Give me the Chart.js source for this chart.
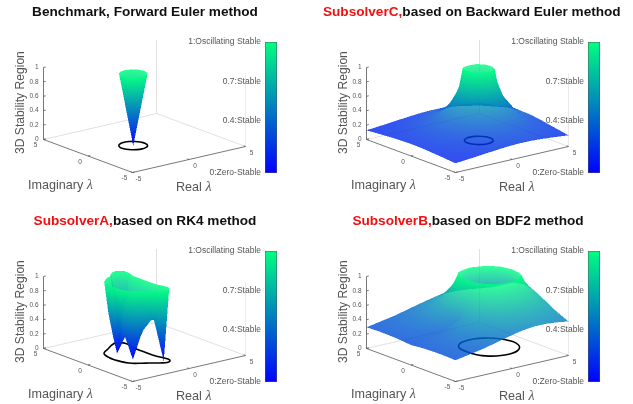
<!DOCTYPE html>
<html>
<head>
<meta charset="utf-8">
<script src="https://cdn.jsdelivr.net/npm/chart.js@4"></script>
<style>
    html, body { margin: 0; padding: 0; background: #fff; width: 633px; height: 404px; overflow: hidden; }
    body { font-family: 'Liberation Sans', Arial, sans-serif; position: relative; filter: blur(0.4px); }
    .panel { position: absolute; width: 300px; height: 200px; }
    .panel canvas { position: absolute; top: 0; }
    .title { position: absolute; left: 0; width: 290px; top: 4px; text-align: center; font-weight: bold; font-size: 13.6px; color: #111; white-space: nowrap; }
    .title span { color: #f01010; }
    .axis-name { position: absolute; font-size: 12.6px; color: #555; white-space: nowrap; }
    .axis-name.side { font-size: 12.1px; left: -30px; top: 96px; width: 100px; text-align: center; transform: rotate(-90deg); }
    .axis-name i { font-family: 'Liberation Serif', serif; font-size: 14px; }
</style>
</head>
<body>
<script>
// Grid nodes and heights (im >= 0, the lower half mirrors it)
const eulerRe = [-2.5, -2, -1.5, -1, -0.5, 0, 0.5];
const eulerIm = [0, 0.5, 1, 1.5];
const eulerZ = [
    [1.5, 1, 0.5, 0, 0.5, 1, 1.5],
    [1.58, 1.12, 0.707, 0.5, 0.707, 1.12, 1.58],
    [1.8, 1.41, 1.12, 1, 1.12, 1.41, 1.8],
    [2.12, 1.8, 1.58, 1.5, 1.58, 1.8, 2.12]
];
const eulerCurveRe = [0, -0.076, -0.293, -0.617, -1, -1.383, -1.707, -1.924, -2];
const eulerCurveIm = [0, 0.383, 0.707, 0.924, 1, 0.924, 0.707, 0.383, 0];

const backwardRe = [-5, -3, -1.5, -0.5, 0, 0.5, 1, 1.5, 2, 2.5, 3.5, 5];
const backwardIm = [0, 0.5, 1, 1.5, 2, 3, 5];
const backwardZ = [
    [0.167, 0.25, 0.4, 0.667, 1, 2, 3, 2, 1, 0.667, 0.4, 0.25],
    [0.166, 0.248, 0.392, 0.632, 0.894, 1.41, 2, 1.41, 0.894, 0.632, 0.392, 0.248],
    [0.164, 0.243, 0.371, 0.555, 0.707, 0.894, 1, 0.894, 0.707, 0.555, 0.371, 0.243],
    [0.162, 0.234, 0.343, 0.471, 0.555, 0.632, 0.667, 0.632, 0.555, 0.471, 0.343, 0.234],
    [0.158, 0.224, 0.312, 0.4, 0.447, 0.485, 0.5, 0.485, 0.447, 0.4, 0.312, 0.224],
    [0.149, 0.2, 0.256, 0.298, 0.316, 0.329, 0.333, 0.329, 0.316, 0.298, 0.256, 0.2],
    [0.128, 0.156, 0.179, 0.192, 0.196, 0.199, 0.2, 0.199, 0.196, 0.192, 0.179, 0.156]
];
const backwardCurveRe = [2, 1.924, 1.707, 1.383, 1, 0.617, 0.293, 0.076, 0];
const backwardCurveIm = [0, 0.383, 0.707, 0.924, 1, 0.924, 0.707, 0.383, 0];

const rk4Re = [-3, -2.5, -2.1, -1.73, -1.3, -0.8, -0.27, 0.2, 0.5];
const rk4Im = [0, 0.45, 0.889, 1.4, 2, 2.505, 3];
const rk4Z = [
    [1.37, 0.648, 0.372, 0.277, 0.298, 0.452, 0.763, 1.22, 1.65],
    [1.417, 0.639, 0.317, 0.203, 0.258, 0.444, 0.762, 1.217, 1.647],
    [1.59, 0.693, 0.263, 0, 0.222, 0.453, 0.765, 1.21, 1.65],
    [2.09, 1.04, 0.56, 0.372, 0.393, 0.526, 0.752, 1.17, 1.63],
    [3.24, 1.93, 1.31, 0.973, 0.767, 0.605, 0.561, 1.005, 1.59],
    [4.81, 3.16, 2.29, 1.74, 1.25, 0.728, 0, 0.968, 1.81],
    [7.18, 5.05, 3.85, 3.01, 2.26, 1.55, 1.21, 1.96, 2.93]
];
const rk4CurveRe = [0, -0.01, -0.01, 0.05, 0.2, 0.24, 0.1, -0.3, -0.75, -1.06, -1.4, -1.76, -2.2, -2.47, -2.67, -2.75, -2.785];
const rk4CurveIm = [0, 0.45, 0.889, 1.4, 2, 2.4, 2.75, 2.93, 2.72, 2.5, 2.25, 2, 1.7, 1.4, 0.889, 0.45, 0];

const bdf2Re = [-5, -2.5, -1, 0, 0.5, 1, 2, 3, 4, 4.5, 5];
const bdf2Im = [0, 1, 1.5, 2, 2.5, 3.5, 5];
const bdf2Z = [
    [0.277, 0.354, 0.447, 1, 1.71, 3.73, 4.24, 1.55, 1, 0.86, 0.76],
    [0.29, 0.391, 0.569, 0.933, 1.277, 1.725, 1.92, 1.3, 0.934, 0.82, 0.733],
    [0.295, 0.403, 0.577, 0.848, 1.05, 1.26, 1.38, 1.115, 0.871, 0.777, 0.705],
    [0.298, 0.408, 0.566, 0.762, 0.885, 1, 1.084, 0.96, 0.798, 0.729, 0.67],
    [0.3, 0.408, 0.544, 0.688, 0.767, 0.837, 0.897, 0.837, 0.732, 0.68, 0.633],
    [0.301, 0.396, 0.493, 0.574, 0.613, 0.645, 0.678, 0.663, 0.617, 0.589, 0.56],
    [0.295, 0.367, 0.425, 0.463, 0.481, 0.495, 0.513, 0.512, 0.497, 0.485, 0.473]
];
const bdf2CurveRe = [0, 0.001, 0.018, 0.086, 0.25, 0.549, 1, 1.585, 2.25, 2.914, 3.482, 3.865, 4];
const bdf2CurveIm = [0, 0.268, 0.567, 0.914, 1.299, 1.682, 2, 2.182, 2.165, 1.914, 1.433, 0.768, 0];

// Axis ticks
const zTicks = [0, 0.2, 0.4, 0.6, 0.8, 1];
const reTicks = [-5, 0, 5];
const imTicks = [5, 0, -5];
const barTicks = [0, 0.4, 0.7, 1];
const barLabels = ['0:Zero-Stable', '0.4:Stable', '0.7:Stable', '1:Oscillating Stable'];

// Fixed 3D view, in screen pixels per data unit
const VIEW = { reX: 11.3, imX: -8.9, reY: -2.6, imY: -3.3, z: 72, cx: 144.5, cy: 143 };
const PLOT_W = 262, PLOT_H = 200;
const SS = 2;

function project(re, im, z) {
    return { x: VIEW.reX * re + VIEW.imX * im, y: VIEW.reY * re + VIEW.imY * im - VIEW.z * z, z };
}

// Complete the surface with its mirrored lower half, nodes go row by row
function surfaceNodes(res, ims, zs) {
    const rows = [];
    for (let r = ims.length - 1; r > 0; r--) rows.push({ im: -ims[r], z: zs[r] });
    ims.forEach((im, r) => rows.push({ im, z: zs[r] }));
    const nodes = [];
    rows.forEach(row => res.forEach((re, c) => nodes.push(project(re, row.im, row.z[c]))));
    return { nodes, rows: rows.length, cols: res.length };
}

function curvePoints(res, ims) {
    const pts = res.map((re, i) => project(re, ims[i], 0));
    for (let i = res.length - 2; i >= 0; i--) pts.push(project(res[i], -ims[i], 0));
    return pts;
}

function lineSet(data, color, order, width, tension) {
    return { type: 'scatter', data, showLine: true, borderColor: color, borderWidth: width || 0.8, tension: tension || 0, pointRadius: 0, order };
}

// Software shading: the colour follows the height, heights over 1 are cut off
const surfacePlugin = {
    id: 'surfacePlugin',
    afterDatasetDraw(chart, args) {
        const ds = chart.data.datasets[args.index];
        if (!ds.surface) return;
        const pts = chart.getDatasetMeta(args.index).data;
        const w = chart.width * SS, h = chart.height * SS;
        const buf = new Float32Array(w * h * 4);
        const alpha = ds.surfaceAlpha;

        const tri = (ia, ib, ic) => {
            const ax = pts[ia].x * SS, ay = pts[ia].y * SS, bx = pts[ib].x * SS, by = pts[ib].y * SS, cx = pts[ic].x * SS, cy = pts[ic].y * SS;
            const za = ds.data[ia].z, zb = ds.data[ib].z, zc = ds.data[ic].z;
            if (za > 1 && zb > 1 && zc > 1) return;
            const area = (bx - ax) * (cy - ay) - (by - ay) * (cx - ax);
            if (area === 0) return;
            const x0 = Math.max(0, Math.floor(Math.min(ax, bx, cx))), x1 = Math.min(w - 1, Math.ceil(Math.max(ax, bx, cx)));
            const y0 = Math.max(0, Math.floor(Math.min(ay, by, cy))), y1 = Math.min(h - 1, Math.ceil(Math.max(ay, by, cy)));
            for (let y = y0; y <= y1; y++) {
                for (let x = x0; x <= x1; x++) {
                    const px = x + 0.5, py = y + 0.5;
                    const u = ((bx - px) * (cy - py) - (by - py) * (cx - px)) / area;
                    const v = ((cx - px) * (ay - py) - (cy - py) * (ax - px)) / area;
                    const t = 1 - u - v;
                    if (u < 0 || v < 0 || t < 0) continue;
                    const z = u * za + v * zb + t * zc;
                    if (z > 1) continue;
                    const k = (y * w + x) * 4, rest = 1 - alpha;
                    buf[k] = buf[k] * rest;
                    buf[k + 1] = buf[k + 1] * rest + alpha * z * 255;
                    buf[k + 2] = buf[k + 2] * rest + alpha * (255 - 127 * z);
                    buf[k + 3] = buf[k + 3] * rest + alpha;
                }
            }
        };

        // From the far corner to the near one
        for (let r = ds.rows - 2; r >= 0; r--) {
            for (let c = ds.cols - 2; c >= 0; c--) {
                const n = r * ds.cols + c;
                tri(n + ds.cols + 1, n + ds.cols, n + 1);
                tri(n, n + ds.cols, n + 1);
            }
        }

        const off = document.createElement('canvas');
        off.width = w;
        off.height = h;
        const octx = off.getContext('2d');
        const img = octx.createImageData(w, h);
        for (let i = 0; i < buf.length; i += 4) {
            const a = buf[i + 3];
            if (a <= 0) continue;
            img.data[i] = buf[i] / a;
            img.data[i + 1] = buf[i + 1] / a;
            img.data[i + 2] = buf[i + 2] / a;
            img.data[i + 3] = a * 255;
        }
        octx.putImageData(img, 0, 0);
        chart.ctx.save();
        chart.ctx.imageSmoothingEnabled = true;
        chart.ctx.drawImage(off, 0, 0, chart.width, chart.height);
        chart.ctx.restore();
    }
};

// Small tick numbers on the box
const tickLabelPlugin = {
    id: 'tickLabelPlugin',
    afterDraw(chart) {
        const ctx = chart.ctx, xs = chart.scales.x, ys = chart.scales.y;
        const put = (text, p, dx, dy, align) => {
            ctx.textAlign = align;
            ctx.fillText(text, xs.getPixelForValue(p.x) + dx, ys.getPixelForValue(p.y) + dy);
        };
        ctx.save();
        ctx.font = "6.5px 'Liberation Sans'";
        ctx.fillStyle = '#555';
        ctx.textBaseline = 'middle';
        zTicks.forEach(z => put(String(z), project(-5, 5, z), -5, 0, 'right'));
        imTicks.forEach(im => put(String(im), project(-5, im, 0), -8, 6, 'center'));
        reTicks.forEach(re => put(String(re), project(re, -5, 0), 6, 7, 'center'));
        ctx.restore();
    }
};

function boxSets() {
    const back = [project(-5, 5, 0), project(5, 5, 0), project(5, -5, 0)];
    const backUp = [project(5, 5, 0), project(5, 5, 1.02)];
    const rightUp = [project(5, -5, 0), project(5, -5, 1.02)];
    const front = [project(-5, 5, 0), project(-5, -5, 0), project(5, -5, 0)];
    const zAxis = [project(-5, 5, 0), project(-5, 5, 1)];
    const ticks = [];
    const gap = { x: NaN, y: NaN };
    zTicks.forEach(z => ticks.push(project(-5, 5, z), project(-4.8, 5, z), gap));
    reTicks.forEach(re => ticks.push(project(re, -5, 0), project(re, -4.8, 0), gap));
    imTicks.forEach(im => ticks.push(project(-5, im, 0), project(-4.8, im, 0), gap));
    return [
        lineSet(back, '#d8d8d8', 3),
        lineSet(backUp, '#d8d8d8', 3),
        lineSet(rightUp, '#e4e4e4', 3),
        lineSet(front, '#555', 2),
        lineSet(zAxis, '#555', 2),
        lineSet(ticks, '#555', 2)
    ];
}

function drawSurface(canvas, res, ims, zs, curveRe, curveIm, alpha) {
    const grid = surfaceNodes(res, ims, zs);
    new Chart(canvas, {
        type: 'scatter',
        data: {
            datasets: [
                ...boxSets(),
                lineSet(curvePoints(curveRe, curveIm), '#000', 1, 1.6, 0.3),
                {
                    data: grid.nodes,
                    surface: true,
                    rows: grid.rows,
                    cols: grid.cols,
                    surfaceAlpha: alpha,
                    pointRadius: 0,
                    order: 0
                }
            ]
        },
        options: {
            responsive: false,
            animation: false,
            layout: { padding: 0 },
            plugins: { legend: { display: false }, tooltip: { enabled: false } },
            scales: {
                x: { type: 'linear', display: false, min: -VIEW.cx, max: PLOT_W - VIEW.cx },
                y: { type: 'linear', display: false, reverse: true, min: -VIEW.cy, max: PLOT_H - VIEW.cy }
            }
        },
        plugins: [surfacePlugin, tickLabelPlugin]
    });
}

// Colour bar: one floating bar with the winter gradient
function drawColorBar(canvas) {
    new Chart(canvas, {
        type: 'bar',
        data: {
            labels: [''],
            datasets: [{
                data: [[0, 1]],
                backgroundColor(c) {
                    const area = c.chart.chartArea;
                    if (!area) return '#0000ff';
                    const g = c.chart.ctx.createLinearGradient(0, area.bottom, 0, area.top);
                    g.addColorStop(0, '#0000ff');
                    g.addColorStop(1, '#00ff80');
                    return g;
                },
                borderColor: '#555',
                borderWidth: 0.8,
                borderSkipped: false,
                barPercentage: 1,
                categoryPercentage: 1
            }]
        },
        options: {
            responsive: false,
            animation: false,
            layout: { padding: { top: 42, bottom: 27, right: 3, left: 0 } },
            plugins: { legend: { display: false }, tooltip: { enabled: false } },
            scales: {
                x: { display: false },
                y: {
                    min: 0,
                    max: 1,
                    grid: { display: false, drawTicks: false },
                    border: { display: false },
                    afterBuildTicks(axis) { axis.ticks = barTicks.map(value => ({ value })); },
                    afterFit(axis) { axis.width = 105; },
                    ticks: {
                        color: '#555',
                        padding: 4,
                        font: { family: "'Liberation Sans'", size: 8.5 },
                        callback(value) { return barLabels[barTicks.indexOf(value)]; }
                    }
                }
            }
        }
    });
}

function addPanel(left, top, titleRed, titleBlack, res, ims, zs, curveRe, curveIm, alpha) {
    const panel = document.createElement('div');
    panel.className = 'panel';
    panel.style.left = left + 'px';
    panel.style.top = top + 'px';
    panel.innerHTML =
        '<canvas class="plot" width="' + PLOT_W + '" height="' + PLOT_H + '" style="left:0"></canvas>' +
        '<canvas class="bar" width="120" height="' + PLOT_H + '" style="left:160px"></canvas>' +
        '<div class="title"><span>' + titleRed + '</span>' + titleBlack + '</div>' +
        '<div class="axis-name side" style="top:97px">3D Stability Region</div>' +
        '<div class="axis-name" style="left:28px;top:177px">Imaginary <i>λ</i></div>' +
        '<div class="axis-name" style="left:176px;top:179px">Real <i>λ</i></div>';
    document.body.appendChild(panel);
    drawSurface(panel.querySelector('.plot'), res, ims, zs, curveRe, curveIm, alpha);
    drawColorBar(panel.querySelector('.bar'));
}

addPanel(0, 0, '', 'Benchmark, Forward Euler method', eulerRe, eulerIm, eulerZ, eulerCurveRe, eulerCurveIm, 0.85);
addPanel(323, 0, 'SubsolverC,', 'based on Backward Euler method', backwardRe, backwardIm, backwardZ, backwardCurveRe, backwardCurveIm, 0.8);
addPanel(0, 209, 'SubsolverA,', 'based on RK4 method', rk4Re, rk4Im, rk4Z, rk4CurveRe, rk4CurveIm, 0.85);
addPanel(323, 209, 'SubsolverB,', 'based on BDF2 method', bdf2Re, bdf2Im, bdf2Z, bdf2CurveRe, bdf2CurveIm, 0.8);
</script>
</body>
</html>
